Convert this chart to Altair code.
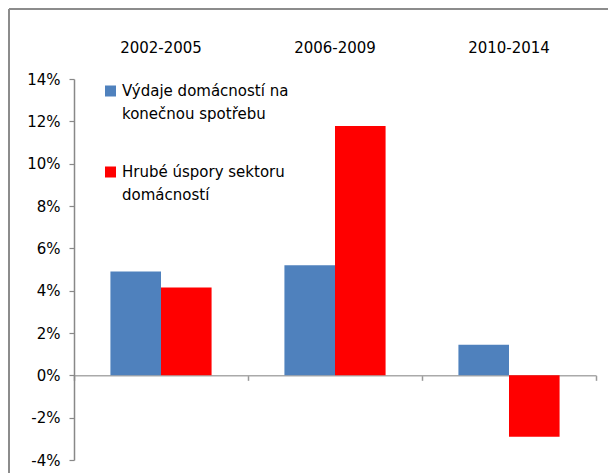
import altair as alt
import pandas as pd

categories = ["2002-2005", "2006-2009", "2010-2014"]
series = ["Výdaje domácností na konečnou spotřebu", "Hrubé úspory sektoru domácností"]
vydaje = [4.9, 5.2, 1.45]
uspory = [4.15, 11.78, -2.9]
legend_lines = [["Výdaje domácností na", "konečnou spotřebu"],
                ["Hrubé úspory sektoru", "domácností"]]
colors = ["#4F81BD", "#FF0000"]
y_ticks = [-4, -2, 0, 2, 4, 6, 8, 10, 12, 14]

rows = []
for i, c in enumerate(categories):
    rows.append({"period": c, "series": series[0], "value": vydaje[i]})
    rows.append({"period": c, "series": series[1], "value": uspory[i]})
df = pd.DataFrame(rows)

FONT = "DejaVu Sans"
W, H = 599, 464
Y_BOTTOM, Y_TOP = 451, 70
zero_px = Y_BOTTOM - (Y_BOTTOM - Y_TOP) * 4 / 18

x_scale = alt.Scale(domain=categories, range=[65, 587], paddingInner=0, paddingOuter=0)
y_scale = alt.Scale(domain=[-4, 14], range=[Y_BOTTOM, Y_TOP], nice=False, zero=False)
color_scale = alt.Scale(domain=series, range=colors)

bars = alt.Chart(df).mark_bar().encode(
    x=alt.X("period:N", scale=x_scale, sort=categories,
            axis=alt.Axis(orient="bottom", offset=-(H - zero_px), labels=False, title=None,
                          tickBand="extent", tickSize=5, grid=False,
                          domainColor="#aaaaaa", domainWidth=1.5,
                          tickColor="#999999", tickWidth=1.5)),
    xOffset=alt.XOffset("series:N", sort=series,
                        scale=alt.Scale(domain=series, paddingInner=0, paddingOuter=0.72)),
    y=alt.Y("value:Q", scale=y_scale, stack=None,
            axis=alt.Axis(orient="left", offset=-65, values=y_ticks, grid=False, title=None,
                          labelExpr="datum.value + '%'", tickSize=5, labelPadding=9,
                          domainColor="#888888", domainWidth=1.5,
                          tickColor="#888888", tickWidth=1.2,
                          labelFont=FONT, labelFontSize=15, labelColor="#000000")),
    y2=alt.datum(0),
    color=alt.Color("series:N", scale=color_scale, legend=None),
)

top_labels = alt.Chart(pd.DataFrame({"period": categories})).mark_rule(opacity=0).encode(
    x=alt.X("period:N", scale=x_scale, sort=categories,
            axis=alt.Axis(orient="top", offset=-43, domain=False, ticks=False, labelPadding=0,
                          labelBaseline="alphabetic", labelAngle=0, title=None, grid=False,
                          labelFont=FONT, labelFontSize=15, labelColor="#000000")),
)

leg_layers = []
sym_y = [82, 163]
txt_y = [87, 168]
for i in range(2):
    d = pd.DataFrame({"series": [series[i]]})
    leg_layers.append(
        alt.Chart(d).mark_square(size=121, opacity=1).encode(
            x=alt.value(101.5), y=alt.value(sym_y[i]),
            color=alt.Color("series:N", scale=color_scale, legend=None))
    )
    leg_layers.append(
        alt.Chart(d).mark_text(align="left", baseline="alphabetic", lineHeight=23,
                               fontSize=15, font=FONT, color="#000000").encode(
            x=alt.value(113), y=alt.value(txt_y[i]), text=alt.value(legend_lines[i]))
    )

border_left = alt.Chart(pd.DataFrame({"a": [0]})).mark_rule(color="#8c8c8c", strokeWidth=2).encode(
    x=alt.value(0), y=alt.value(0), y2=alt.value(H + 10))
border_top = alt.Chart(pd.DataFrame({"a": [0]})).mark_rule(color="#8c8c8c", strokeWidth=2).encode(
    x=alt.value(0), x2=alt.value(W + 10), y=alt.value(0))

chart = alt.layer(bars, top_labels, *leg_layers, border_left, border_top).resolve_axis(
    x="independent"
).properties(
    width=W, height=H,
    padding={"left": 1, "top": 1, "right": 0, "bottom": 0},
    autosize=alt.AutoSizeParams(type="none"),
).configure_view(stroke=None).configure(background="white")

chart.save("out.html", embed_options={"renderer": "svg", "actions": False})
